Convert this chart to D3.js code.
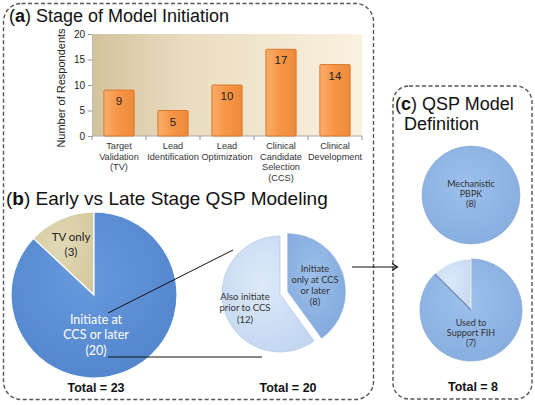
<!DOCTYPE html>
<html>
<head>
<meta charset="utf-8">
<script src="https://cdn.jsdelivr.net/npm/d3@7"></script>
<style>
  html, body { margin: 0; padding: 0; background: #fff; }
  svg { display: block; }
  text { font-family: "Liberation Sans", Arial, sans-serif; }
  .cal { font-family: Lato, "Open Sans", sans-serif; }
</style>
</head>
<body>
<svg id="chart" width="535" height="405"></svg>
<script>
// ---------- DATA ----------
const stageCategories = [
  ["Target", "Validation", "(TV)"],
  ["Lead", "Identification"],
  ["Lead", "Optimization"],
  ["Clinical", "Candidate", "Selection", "(CCS)"],
  ["Clinical", "Development"]
];
const stageValues = [9, 5, 10, 17, 14];
const yTicks = [0, 5, 10, 15, 20];

const earlyLateLabels = [["TV only", "(3)"], ["Initiate at", "CCS or later", "(20)"]];
const earlyLateValues = [3, 20];

const ccsLabels = [["Initiate", "only at CCS", "or later", "(8)"], ["Also initiate", "prior to CCS", "(12)"]];
const ccsValues = [8, 12];

const mechLabels = [["Mechanistic", "PBPK", "(8)"]];
const mechValues = [8];

const fihLabels = [["Used to", "Support FIH", "(7)"], []];
const fihValues = [7, 1];

const totals = ["Total = 23", "Total = 20", "Total = 8"];

// ---------- SETUP ----------
const svg = d3.select("#chart");
const defs = svg.append("defs");

function linGrad(id, stops, x2 = "100%", y2 = "0%") {
  const g = defs.append("linearGradient").attr("id", id)
    .attr("x1", "0%").attr("y1", "0%").attr("x2", x2).attr("y2", y2);
  stops.forEach(([o, c]) => g.append("stop").attr("offset", o).attr("stop-color", c));
}
function radGrad(id, stops) {
  const g = defs.append("radialGradient").attr("id", id)
    .attr("cx", "45%").attr("cy", "40%").attr("r", "65%");
  stops.forEach(([o, c]) => g.append("stop").attr("offset", o).attr("stop-color", c));
}
linGrad("plotBg", [["0%", "#d3c39c"], ["35%", "#e9dcc0"], ["100%", "#faf1df"]]);
linGrad("barG", [["0%", "#f9ad6c"], ["45%", "#f79646"], ["100%", "#ec8a3a"]]);
radGrad("blue1", [["0%", "#6699dc"], ["100%", "#5285cc"]]);
radGrad("tan1", [["0%", "#e1d9b6"], ["100%", "#d4c99f"]]);
radGrad("light2", [["0%", "#dde9f9"], ["100%", "#c3d7f1"]]);
radGrad("mid2", [["0%", "#9cbfea"], ["100%", "#82a9dc"]]);
radGrad("midC", [["0%", "#9dc0ec"], ["100%", "#86addf"]]);
radGrad("lightC", [["0%", "#dae8f9"], ["100%", "#c6daf2"]]);

// ---------- DASHED PANELS ----------
svg.append("rect").attr("x", 3.5).attr("y", 3.5).attr("width", 370).attr("height", 396)
  .attr("rx", 18).attr("fill", "none").attr("stroke", "#555").attr("stroke-width", 1.4)
  .attr("stroke-dasharray", "4,2.5");
svg.append("rect").attr("x", 393).attr("y", 86).attr("width", 139).attr("height", 313)
  .attr("rx", 16).attr("fill", "none").attr("stroke", "#555").attr("stroke-width", 1.4)
  .attr("stroke-dasharray", "4,2.5");

// ---------- TITLES ----------
function title(x, y, letter, rest, size) {
  const t = svg.append("text").attr("x", x).attr("y", y).attr("font-size", size).attr("fill", "#111");
  t.append("tspan").text("(");
  t.append("tspan").attr("font-weight", "bold").text(letter);
  t.append("tspan").text(") " + rest);
  return t;
}
title(9, 22, "a", "Stage of Model Initiation", 18);
title(6, 205, "b", "Early vs Late Stage QSP Modeling", 19);
title(395, 110, "c", "QSP Model", 18);
svg.append("text").attr("x", 404).attr("y", 130).attr("font-size", 18).attr("fill", "#111").text("Definition");

// ---------- BAR CHART (a) ----------
const plot = { x0: 92, x1: 362, y0: 34, y1: 136 };
const x = d3.scaleBand().domain(d3.range(stageValues.length)).range([plot.x0, plot.x1]).paddingInner(0.44).paddingOuter(0.22);
const y = d3.scaleLinear().domain([0, 20]).range([plot.y1, plot.y0]);

svg.append("rect").attr("x", plot.x0).attr("y", plot.y0)
  .attr("width", plot.x1 - plot.x0).attr("height", plot.y1 - plot.y0).attr("fill", "url(#plotBg)");

const yAxis = svg.append("g").attr("transform", `translate(${plot.x0},0)`)
  .call(d3.axisLeft(y).tickValues(yTicks).tickSize(4).tickPadding(3));
yAxis.select(".domain").attr("stroke", "#bbb");
yAxis.selectAll(".tick line").attr("stroke", "#999");
yAxis.selectAll("text").attr("font-size", 10).attr("fill", "#222").attr("font-family", "Liberation Sans, Arial, sans-serif");

const xAxis = svg.append("g").attr("transform", `translate(0,${plot.y1})`);
xAxis.append("line").attr("x1", plot.x0).attr("x2", plot.x1).attr("stroke", "#aaa");
xAxis.selectAll("line.t").data(d3.range(stageValues.length + 1)).join("line").attr("class", "t")
  .attr("x1", i => plot.x0 + i * (plot.x1 - plot.x0) / stageValues.length)
  .attr("x2", i => plot.x0 + i * (plot.x1 - plot.x0) / stageValues.length)
  .attr("y1", 0).attr("y2", 4).attr("stroke", "#999");

svg.append("text").attr("transform", `translate(65,88) rotate(-90)`)
  .attr("text-anchor", "middle").attr("font-size", 11).attr("fill", "#222").text("Number of Respondents");

svg.selectAll("rect.bar").data(stageValues).join("rect").attr("class", "bar")
  .attr("x", (d, i) => x(i)).attr("y", d => y(d))
  .attr("width", x.bandwidth()).attr("height", d => y(0) - y(d))
  .attr("fill", "url(#barG)").attr("stroke", "#d9782e").attr("stroke-width", 1).attr("rx", 1);

svg.selectAll("text.val").data(stageValues).join("text").attr("class", "val")
  .attr("x", (d, i) => x(i) + x.bandwidth() / 2).attr("y", d => y(d) + 15)
  .attr("text-anchor", "middle").attr("font-size", 11.5).attr("fill", "#222").text(d => d);

stageCategories.forEach((lines, i) => {
  const t = svg.append("text").attr("text-anchor", "middle").attr("font-size", 9.2).attr("fill", "#333");
  lines.forEach((ln, k) => t.append("tspan").attr("x", x(i) + x.bandwidth() / 2)
    .attr("y", plot.y1 + 13 + k * 10.5).text(ln));
});

// ---------- PIE helpers ----------
function multiline(g, lines, px, py, size, color, lh) {
  const t = g.append("text").attr("class", "cal").attr("text-anchor", "middle")
    .attr("font-size", size).attr("fill", color);
  const n = lines.length;
  lines.forEach((ln, k) => t.append("tspan").attr("x", px)
    .attr("y", py + (k - (n - 1) / 2) * lh + size * 0.35).text(ln));
}

// ---------- PIE 1 (b) ----------
const p1 = { cx: 94, cy: 295, r: 83 };
const tot1 = d3.sum(earlyLateValues);
const pie1 = d3.pie().sort(null).startAngle(-earlyLateValues[0] / tot1 * 2 * Math.PI)
  .endAngle(2 * Math.PI - earlyLateValues[0] / tot1 * 2 * Math.PI)(earlyLateValues);
const arc1 = d3.arc().innerRadius(0).outerRadius(p1.r);
const g1 = svg.append("g").attr("transform", `translate(${p1.cx},${p1.cy})`);
g1.selectAll("path").data(pie1).join("path").attr("d", arc1)
  .attr("fill", (d, i) => i === 0 ? "url(#tan1)" : "url(#blue1)")
  .attr("stroke", "#fff").attr("stroke-width", 1.2);
multiline(g1, earlyLateLabels[0], -23, -51, 11.5, "#222", 15);
multiline(g1, earlyLateLabels[1], 2, 40, 12.5, "#fff", 15.5);

// ---------- PIE 2 (b) ----------
const p2 = { cx: 280, cy: 294, r: 58, explode: 8 };
const pie2 = d3.pie().sort(null)(ccsValues);
const arc2 = d3.arc().innerRadius(0).outerRadius(p2.r);
const g2 = svg.append("g").attr("transform", `translate(${p2.cx},${p2.cy})`);
g2.selectAll("path").data(pie2).join("path").attr("d", arc2)
  .attr("transform", (d, i) => {
    if (i !== 0) return null;
    const a = (d.startAngle + d.endAngle) / 2;
    return `translate(${Math.sin(a) * p2.explode},${-Math.cos(a) * p2.explode})`;
  })
  .attr("fill", (d, i) => i === 0 ? "url(#mid2)" : "url(#light2)")
  .attr("stroke", "#a9c1e2").attr("stroke-width", 0.6);
multiline(g2, ccsLabels[0], 35, -9, 9.3, "#333", 11);
multiline(g2, ccsLabels[1], -35, 14, 9.5, "#333", 11.8);

// connector lines
svg.append("line").attr("x1", p1.cx + 14).attr("y1", p1.cy + 18)
  .attr("x2", p2.cx - 47).attr("y2", p2.cy - 44).attr("stroke", "#111").attr("stroke-width", 1);
svg.append("line").attr("x1", p1.cx + 14).attr("y1", p1.cy + 62)
  .attr("x2", p2.cx - 18).attr("y2", p1.cy + 62).attr("stroke", "#111").attr("stroke-width", 1);

// arrow
svg.append("line").attr("x1", 352).attr("y1", 267).attr("x2", 397).attr("y2", 267)
  .attr("stroke", "#111").attr("stroke-width", 1.2);
svg.append("path").attr("d", "M392,263.5 L397.5,267 L392,270.5").attr("fill", "none")
  .attr("stroke", "#111").attr("stroke-width", 1.2);

// ---------- PIES (c) ----------
const pc1 = { cx: 471, cy: 195, r: 49 };
const gc1 = svg.append("g").attr("transform", `translate(${pc1.cx},${pc1.cy})`);
gc1.selectAll("path").data(d3.pie().sort(null)(mechValues)).join("path")
  .attr("d", d3.arc().innerRadius(0).outerRadius(pc1.r))
  .attr("fill", "url(#midC)").attr("stroke", "#8aa9d3").attr("stroke-width", 0.6);
multiline(gc1, mechLabels[0], 0, -1, 9, "#333", 10);

const pc2 = { cx: 471, cy: 310, r: 51 };
const gc2 = svg.append("g").attr("transform", `translate(${pc2.cx},${pc2.cy})`);
gc2.selectAll("path").data(d3.pie().sort(null)(fihValues)).join("path")
  .attr("d", d3.arc().innerRadius(0).outerRadius(pc2.r))
  .attr("fill", (d, i) => i === 0 ? "url(#midC)" : "url(#lightC)")
  .attr("stroke", (d, i) => i === 0 ? "#8aa9d3" : "#fff").attr("stroke-width", 0.8);
gc2.append("line").attr("x1", 0).attr("y1", 0)
  .attr("x2", Math.sin(-Math.PI / 4) * pc2.r).attr("y2", -Math.cos(-Math.PI / 4) * pc2.r)
  .attr("stroke", "#6f88aa").attr("stroke-width", 1.2);
multiline(gc2, fihLabels[0], 0, 23, 9, "#333", 10);

// ---------- TOTALS ----------
[[p1.cx + 2, 392], [p2.cx + 8, 392], [pc2.cx + 2, 391]].forEach(([tx, ty], i) => {
  svg.append("text").attr("x", tx).attr("y", ty).attr("text-anchor", "middle")
    .attr("font-size", 12.5).attr("font-weight", "bold").attr("fill", "#111").text(totals[i]);
});
</script>
</body>
</html>
